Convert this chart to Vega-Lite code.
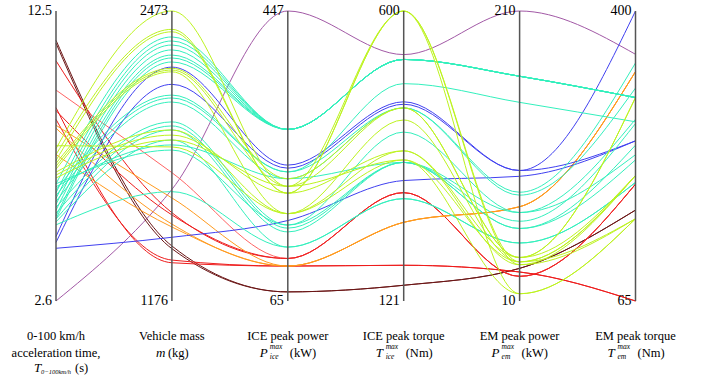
{
  "$schema": "https://vega.github.io/schema/vega-lite/v6.json",
  "width": 706,
  "height": 379,
  "autosize": {"type": "none"},
  "padding": 0,
  "background": "white",
  "config": {"view": {"stroke": null}},
  "datasets": {
    "cars": [
      {"id": 1, "g": "purple", "T": 2.6, "m": 1675, "Pice": 447, "Tice": 528, "Pem": 210, "Tem": 350},
      {"id": 2, "g": "maroon", "T": 11.5, "m": 1422, "Pice": 77, "Tice": 147, "Pem": 32.5, "Tem": 170},
      {"id": 3, "g": "maroon", "T": 11.4, "m": 1410, "Pice": 77, "Tice": 147, "Pem": 32.5, "Tem": 170},
      {"id": 4, "g": "red", "T": 10.8, "m": 1571, "Pice": 121, "Tice": 300, "Pem": 27, "Tem": 200},
      {"id": 5, "g": "salmon", "T": 9.8, "m": 1750, "Pice": 121, "Tice": 300, "Pem": 27, "Tem": 200},
      {"id": 6, "g": "red", "T": 9.2, "m": 1347, "Pice": 111, "Tice": 180, "Pem": 30, "Tem": 65},
      {"id": 7, "g": "red", "T": 9.1, "m": 1561, "Pice": 121, "Tice": 300, "Pem": 27, "Tem": 200},
      {"id": 8, "g": "red", "T": 8.8, "m": 1359, "Pice": 111, "Tice": 180, "Pem": 30, "Tem": 65},
      {"id": 9, "g": "orange", "T": 8.6, "m": 1637, "Pice": 111, "Tice": 251, "Pem": 75, "Tem": 330},
      {"id": 10, "g": "orange", "T": 8.5, "m": 1520, "Pice": 111, "Tice": 251, "Pem": 75, "Tem": 330},
      {"id": 11, "g": "orange", "T": 7.6, "m": 1507, "Pice": 111, "Tice": 251, "Pem": 75, "Tem": 330},
      {"id": 12, "g": "blue", "T": 4.4, "m": 1461, "Pice": 171, "Tice": 320, "Pem": 96, "Tem": 250},
      {"id": 13, "g": "blue", "T": 4.8, "m": 2222, "Pice": 244, "Tice": 450, "Pem": 100, "Tem": 400},
      {"id": 14, "g": "blue", "T": 4.6, "m": 2145, "Pice": 240, "Tice": 446, "Pem": 100, "Tem": 250},
      {"id": 15, "g": "cyan", "T": 6.6, "m": 2357, "Pice": 291, "Tice": 520, "Pem": 165, "Tem": 300},
      {"id": 16, "g": "cyan", "T": 6.3, "m": 2339, "Pice": 291, "Tice": 520, "Pem": 165, "Tem": 300},
      {"id": 17, "g": "cyan", "T": 6.1, "m": 2321, "Pice": 291, "Tice": 520, "Pem": 165, "Tem": 300},
      {"id": 18, "g": "cyan", "T": 5.9, "m": 2299, "Pice": 291, "Tice": 520, "Pem": 165, "Tem": 300},
      {"id": 19, "g": "cyan", "T": 5.7, "m": 2276, "Pice": 291, "Tice": 520, "Pem": 165, "Tem": 300},
      {"id": 20, "g": "cyan", "T": 5.5, "m": 2263, "Pice": 291, "Tice": 520, "Pem": 165, "Tem": 300},
      {"id": 21, "g": "cyan", "T": 5.4, "m": 2245, "Pice": 291, "Tice": 520, "Pem": 165, "Tem": 300},
      {"id": 22, "g": "cyan", "T": 6.4, "m": 2097, "Pice": 235, "Tice": 480, "Pem": 147, "Tem": 272},
      {"id": 23, "g": "cyan", "T": 6.2, "m": 2084, "Pice": 235, "Tice": 440, "Pem": 85, "Tem": 340},
      {"id": 24, "g": "cyan", "T": 6.0, "m": 2066, "Pice": 226, "Tice": 440, "Pem": 83, "Tem": 311},
      {"id": 25, "g": "cyan", "T": 5.8, "m": 1977, "Pice": 165, "Tice": 400, "Pem": 71, "Tem": 275},
      {"id": 26, "g": "cyan", "T": 5.6, "m": 1959, "Pice": 161, "Tice": 350, "Pem": 65, "Tem": 270},
      {"id": 27, "g": "cyan", "T": 5.4, "m": 1941, "Pice": 156, "Tice": 350, "Pem": 60, "Tem": 245},
      {"id": 28, "g": "cyan", "T": 5.3, "m": 1896, "Pice": 136, "Tice": 290, "Pem": 50, "Tem": 202},
      {"id": 29, "g": "cyan", "T": 6.5, "m": 1874, "Pice": 226, "Tice": 350, "Pem": 71, "Tem": 234},
      {"id": 30, "g": "cyan", "T": 6.6, "m": 1851, "Pice": 165, "Tice": 350, "Pem": 60, "Tem": 228},
      {"id": 31, "g": "cyan", "T": 5.2, "m": 1665, "Pice": 136, "Tice": 290, "Pem": 50, "Tem": 202},
      {"id": 32, "g": "yellowgreen", "T": 7.8, "m": 2473, "Pice": 216, "Tice": 600, "Pem": 15, "Tem": 160},
      {"id": 33, "g": "yellowgreen", "T": 7.6, "m": 2391, "Pice": 207, "Tice": 600, "Pem": 35, "Tem": 210},
      {"id": 34, "g": "yellowgreen", "T": 7.4, "m": 2380, "Pice": 207, "Tice": 600, "Pem": 37, "Tem": 210},
      {"id": 35, "g": "yellowgreen", "T": 7.3, "m": 2217, "Pice": 226, "Tice": 440, "Pem": 40, "Tem": 300},
      {"id": 36, "g": "yellowgreen", "T": 7.2, "m": 2209, "Pice": 216, "Tice": 440, "Pem": 40, "Tem": 300},
      {"id": 37, "g": "yellowgreen", "T": 7.1, "m": 2201, "Pice": 180, "Tice": 420, "Pem": 37, "Tem": 210},
      {"id": 38, "g": "yellowgreen", "T": 7.0, "m": 1941, "Pice": 180, "Tice": 369, "Pem": 35, "Tem": 160},
      {"id": 39, "g": "yellowgreen", "T": 6.9, "m": 1918, "Pice": 207, "Tice": 369, "Pem": 40, "Tem": 210},
      {"id": 40, "g": "yellowgreen", "T": 6.8, "m": 1896, "Pice": 216, "Tice": 354, "Pem": 37, "Tem": 160},
      {"id": 41, "g": "yellowgreen", "T": 7.9, "m": 1865, "Pice": 180, "Tice": 354, "Pem": 15, "Tem": 160}
    ],
    "axes": [
      {"key": "T", "idx": 0, "lo": 2.6, "hi": 12.5, "l1": "0-100 km/h", "l2": "acceleration time,", "sym": "T", "sup": "", "sub": "0−100km/h", "unit": "(s)"},
      {"key": "m", "idx": 1, "lo": 1176, "hi": 2473, "l1": "Vehicle mass", "l2": "", "sym": "m", "sup": "", "sub": "", "unit": "(kg)"},
      {"key": "Pice", "idx": 2, "lo": 65, "hi": 447, "l1": "ICE peak power", "l2": "", "sym": "P", "sup": "max", "sub": "ice", "unit": "(kW)"},
      {"key": "Tice", "idx": 3, "lo": 121, "hi": 600, "l1": "ICE peak torque", "l2": "", "sym": "T", "sup": "max", "sub": "ice", "unit": "(Nm)"},
      {"key": "Pem", "idx": 4, "lo": 10, "hi": 210, "l1": "EM peak power", "l2": "", "sym": "P", "sup": "max", "sub": "em", "unit": "(kW)"},
      {"key": "Tem", "idx": 5, "lo": 65, "hi": 400, "l1": "EM peak torque", "l2": "", "sym": "T", "sup": "max", "sub": "em", "unit": "(Nm)"}
    ]
  },
  "layer": [
    {
      "data": {"name": "cars"},
      "transform": [
        {"fold": ["T", "m", "Pice", "Tice", "Pem", "Tem"], "as": ["key", "value"]},
        {"lookup": "key", "from": {"data": {"name": "axes"}, "key": "key", "fields": ["idx", "lo", "hi"]}},
        {"calculate": "(datum.value - datum.lo) / (datum.hi - datum.lo)", "as": "norm"}
      ],
      "mark": {"type": "line", "interpolate": "monotone", "strokeWidth": 1, "clip": false},
      "encoding": {
        "x": {"field": "idx", "type": "quantitative", "axis": null, "scale": {"domain": [-0.48318, 5.60828], "nice": false, "zero": false}},
        "y": {"field": "norm", "type": "quantitative", "axis": null, "scale": {"domain": [-0.26897, 1.03793], "nice": false, "zero": false}},
        "color": {"field": "g", "type": "nominal", "legend": null,
          "scale": {"domain": ["purple", "maroon", "red", "salmon", "orange", "yellowgreen", "cyan", "blue"],
                    "range": ["#a259a6", "#6b1616", "#ee1c1c", "#ff6464", "#ff9a1e", "#bdf31f", "#33f0bd", "#4040f0"]}},
        "detail": {"field": "id", "type": "nominal"},
        "order": {"field": "idx", "type": "quantitative"}
      }
    },
    {
      "data": {"name": "axes"},
      "mark": {"type": "rule", "color": "#555555", "strokeWidth": 1.5},
      "encoding": {
        "x": {"field": "idx", "type": "quantitative", "axis": null},
        "y": {"datum": 0, "type": "quantitative", "axis": null},
        "y2": {"datum": 1}
      }
    },
    {
      "data": {"name": "axes"},
      "mark": {"type": "text", "font": "Liberation Serif", "color": "black", "align": "right", "baseline": "middle", "dx": -4, "fontSize": 14},
      "encoding": {
        "x": {"field": "idx", "type": "quantitative", "axis": null},
        "y": {"datum": 1, "type": "quantitative", "axis": null},
        "text": {"field": "hi", "type": "nominal"}
      }
    },
    {
      "data": {"name": "axes"},
      "mark": {"type": "text", "font": "Liberation Serif", "color": "black", "align": "right", "baseline": "middle", "dx": -4, "fontSize": 14},
      "encoding": {
        "x": {"field": "idx", "type": "quantitative", "axis": null},
        "y": {"datum": 0, "type": "quantitative", "axis": null},
        "text": {"field": "lo", "type": "nominal"}
      }
    },
    {
      "data": {"name": "axes"},
      "mark": {"type": "text", "font": "Liberation Serif", "color": "black", "align": "center", "baseline": "middle", "fontSize": 12.5},
      "encoding": {
        "x": {"field": "idx", "type": "quantitative", "axis": null},
        "y": {"datum": -0.1207, "type": "quantitative", "axis": null},
        "text": {"field": "l1", "type": "nominal"}
      }
    },
    {
      "data": {"name": "axes"},
      "transform": [{"filter": "datum.idx == 0"}],
      "mark": {"type": "text", "font": "Liberation Serif", "color": "black", "align": "center", "baseline": "middle", "fontSize": 12.5},
      "encoding": {
        "x": {"field": "idx", "type": "quantitative", "axis": null},
        "y": {"datum": -0.1776, "type": "quantitative", "axis": null},
        "text": {"field": "l2", "type": "nominal"}
      }
    },
    {
      "data": {"name": "axes"},
      "transform": [{"filter": "datum.idx >= 2"}],
      "mark": {"type": "text", "font": "Liberation Serif", "color": "black", "align": "left", "baseline": "middle", "dx": -28, "fontSize": 13, "fontStyle": "italic"},
      "encoding": {
        "x": {"field": "idx", "type": "quantitative", "axis": null},
        "y": {"datum": -0.1793, "type": "quantitative", "axis": null},
        "text": {"field": "sym", "type": "nominal"}
      }
    },
    {
      "data": {"name": "axes"},
      "transform": [{"filter": "datum.idx >= 2"}],
      "mark": {"type": "text", "font": "Liberation Serif", "color": "black", "align": "left", "baseline": "middle", "dx": -18, "fontSize": 7.5, "fontStyle": "italic"},
      "encoding": {
        "x": {"field": "idx", "type": "quantitative", "axis": null},
        "y": {"datum": -0.1586, "type": "quantitative", "axis": null},
        "text": {"field": "sup", "type": "nominal"}
      }
    },
    {
      "data": {"name": "axes"},
      "transform": [{"filter": "datum.idx >= 2"}],
      "mark": {"type": "text", "font": "Liberation Serif", "color": "black", "align": "left", "baseline": "middle", "dx": -18, "fontSize": 7.5, "fontStyle": "italic"},
      "encoding": {
        "x": {"field": "idx", "type": "quantitative", "axis": null},
        "y": {"datum": -0.1931, "type": "quantitative", "axis": null},
        "text": {"field": "sub", "type": "nominal"}
      }
    },
    {
      "data": {"name": "axes"},
      "transform": [{"filter": "datum.idx >= 2"}],
      "mark": {"type": "text", "font": "Liberation Serif", "color": "black", "align": "left", "baseline": "middle", "dx": 2, "fontSize": 12.5},
      "encoding": {
        "x": {"field": "idx", "type": "quantitative", "axis": null},
        "y": {"datum": -0.1793, "type": "quantitative", "axis": null},
        "text": {"field": "unit", "type": "nominal"}
      }
    },
    {
      "data": {"name": "axes"},
      "transform": [{"filter": "datum.idx == 1"}],
      "mark": {"type": "text", "font": "Liberation Serif", "color": "black", "align": "left", "baseline": "middle", "dx": -16, "fontSize": 13, "fontStyle": "italic"},
      "encoding": {
        "x": {"field": "idx", "type": "quantitative", "axis": null},
        "y": {"datum": -0.1793, "type": "quantitative", "axis": null},
        "text": {"field": "sym", "type": "nominal"}
      }
    },
    {
      "data": {"name": "axes"},
      "transform": [{"filter": "datum.idx == 1"}],
      "mark": {"type": "text", "font": "Liberation Serif", "color": "black", "align": "left", "baseline": "middle", "dx": -4, "fontSize": 12.5},
      "encoding": {
        "x": {"field": "idx", "type": "quantitative", "axis": null},
        "y": {"datum": -0.1793, "type": "quantitative", "axis": null},
        "text": {"field": "unit", "type": "nominal"}
      }
    },
    {
      "data": {"name": "axes"},
      "transform": [{"filter": "datum.idx == 0"}],
      "mark": {"type": "text", "font": "Liberation Serif", "color": "black", "align": "left", "baseline": "middle", "dx": -22, "fontSize": 13, "fontStyle": "italic"},
      "encoding": {
        "x": {"field": "idx", "type": "quantitative", "axis": null},
        "y": {"datum": -0.2310, "type": "quantitative", "axis": null},
        "text": {"field": "sym", "type": "nominal"}
      }
    },
    {
      "data": {"name": "axes"},
      "transform": [{"filter": "datum.idx == 0"}],
      "mark": {"type": "text", "font": "Liberation Serif", "color": "black", "align": "left", "baseline": "middle", "dx": -15, "fontSize": 6.5, "fontStyle": "italic"},
      "encoding": {
        "x": {"field": "idx", "type": "quantitative", "axis": null},
        "y": {"datum": -0.2448, "type": "quantitative", "axis": null},
        "text": {"field": "sub", "type": "nominal"}
      }
    },
    {
      "data": {"name": "axes"},
      "transform": [{"filter": "datum.idx == 0"}],
      "mark": {"type": "text", "font": "Liberation Serif", "color": "black", "align": "left", "baseline": "middle", "dx": 19, "fontSize": 12.5},
      "encoding": {
        "x": {"field": "idx", "type": "quantitative", "axis": null},
        "y": {"datum": -0.2310, "type": "quantitative", "axis": null},
        "text": {"field": "unit", "type": "nominal"}
      }
    }
  ]
}
